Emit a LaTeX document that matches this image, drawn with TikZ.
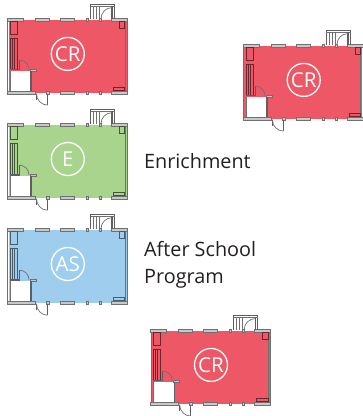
\documentclass[tikz,border=0pt]{standalone}
\usepackage{fontspec}
\setmainfont{Open Sans}
\definecolor{roomred}{HTML}{EE5765}
\definecolor{roomgreen}{HTML}{A8D48E}
\definecolor{roomblue}{HTML}{9FCDEE}
\definecolor{wallgray}{HTML}{707070}
\definecolor{wallfill}{HTML}{C8C8C8}
\definecolor{labelink}{HTML}{231F20}
\tikzset{
  wallseg/.style={draw=wallgray,fill=wallfill,line width=.5pt},
  wallline/.style={draw=wallgray,line width=1pt},
  heavyline/.style={draw=wallgray!85!black,line width=1.2pt},
  thinline/.style={draw=wallgray,line width=.7pt},
  roomlabel/.style={draw=white,line width=1.3pt,circle,minimum size=33pt,inner sep=0pt,text=white,font=\fontsize{20.5}{20.5}\selectfont},
  caption/.style={text=labelink,anchor=base west,inner sep=0pt,font=\fontsize{19.8}{26}\selectfont},
  pics/roomplan/.style args={#1/#2/#3}{code={
    % floor
    \fill[#1] (1,1) rectangle (119,74);
    \fill[white] (2.5,52) rectangle (23.5,72.5);
    % outer wall, closet walls
    \draw[wallline] (0.4,0.4) -- (0.4,75) -- (28,75);
    \draw[thinline] (2.6,52) -- (2.6,72.6) -- (23.4,72.6);
    \draw[wallline] (119.6,0.4) -- (119.6,75);
    \draw[thinline] (117.4,2.5) -- (117.4,72.6);
    % top wall pieces
    \foreach \a/\b in {0/16,28/42,53/67,78.5/81,91.5/94,104/120}
      \draw[wallseg] (\a,0) rectangle (\b,2.4);
    % bottom wall pieces
    \foreach \a/\b in {0/28,39/42,53/67,78.5/81,91.5/94,104/120}
      \draw[wallseg] (\a,73) rectangle (\b,75.4);
    % cabinets
    \draw[#2,line width=.7pt] (2.8,2.6) rectangle (9.5,15.5);
    \draw[#2,line width=.7pt] (2.8,19.5) rectangle (9.5,50.5);
    \draw[#2,line width=.6pt] (5,19.5) -- (5,50.5) (7,19.5) -- (7,50.5);
    \draw[#2,line width=.7pt] (112,3) rectangle (117.2,9.5);
    \draw[#2,line width=.7pt] (106,71.8) -- (106,69) -- (117.2,69) -- (117.2,71.8) -- cycle;
    % closet wall and door
    \draw[heavyline] (2.5,51.2) -- (12,51.2);
    \draw[wallseg] (22.5,50.8) rectangle (29,52.4);
    \draw[heavyline] (23.5,52) -- (23.5,72.6);
    \draw[heavyline] (12,51) -- (12,41.5);
    \draw[thinline] (12,41.5) .. controls (17.2,41.5) and (21.5,45.8) .. (21.5,51);
    % entry door
    \draw[heavyline] (40,75) -- (40,86.5);
    \draw[heavyline] (29,75) -- (29,81);
    \draw[thinline] (40,86.5) .. controls (34,86.5) and (29,81.5) .. (29,75);
    % porch
    \draw[heavyline] (83,0) -- (83,-14) -- (107,-14) -- (107,0);
    \draw[thinline] (83,-12.5) -- (107,-12.5);
    \draw[thinline] (85.5,-12.5) -- (85.5,0) (89,-12.5) -- (89,0) (92,-12.5) -- (92,0);
    \draw[heavyline] (104.5,-12.5) -- (104.5,0);
    \draw[thinline] (104.5,-11) .. controls (98.4,-11) and (93.5,-6) .. (93.5,0);
    % label
    \node[roomlabel] at (60.3,35.3) {#3};
  }}
}
\begin{document}
\begin{tikzpicture}[x=1pt,y=-1pt]
\useasboundingbox (0,0) rectangle (363,416);
\pic at (7.5,18.6) {roomplan={roomred/{black!55!roomred}/CR}};
\pic at (7.5,123.7) {roomplan={roomgreen/{black!60!roomgreen}/E}};
\pic at (7.5,228.7) {roomplan={roomblue/{black!55!roomblue}/AS}};
\pic at (243.4,44.6) {roomplan={roomred/{black!55!roomred}/CR}};
\pic at (150.7,329.6) {roomplan={roomred/{black!55!roomred}/CR}};
\node[caption] (enrichment) at (144,168.3) {Enrichment};
\node[caption] (afterschool) at (144,256.7) {After School};
\node[caption] (program) at (144,283.3) {Program};
\end{tikzpicture}
\end{document}
